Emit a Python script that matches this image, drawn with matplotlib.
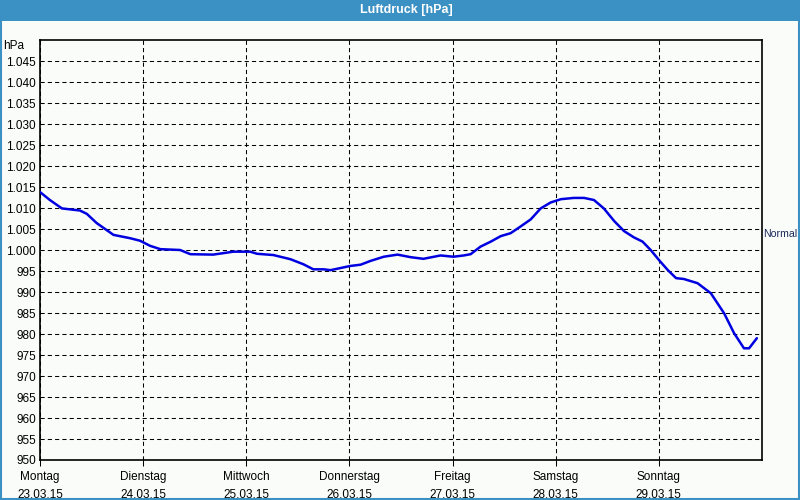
import matplotlib
matplotlib.use("Agg")
import matplotlib.pyplot as plt
from matplotlib.patches import Rectangle
from matplotlib.lines import Line2D

# ---- data ----
title = "Luftdruck [hPa]"
day_names = ["Montag", "Dienstag", "Mittwoch", "Donnerstag", "Freitag", "Samstag", "Sonntag"]
day_dates = ["23.03.15", "24.03.15", "25.03.15", "26.03.15", "27.03.15", "28.03.15", "29.03.15"]
y_ticks = [950, 955, 960, 965, 970, 975, 980, 985, 990, 995, 1000, 1005, 1010,
           1015, 1020, 1025, 1030, 1035, 1040, 1045]
normal_value = 1004.0
hours = [0, 2.3, 5.1, 9.3, 10.9, 13.2, 17.1, 21.0, 23.3, 25.6, 28.0, 32.6, 35.0,
         40.3, 45.0, 48.9, 50.5, 54.3, 58.3, 61.3, 63.6, 66.0, 67.6, 69.9, 72.2,
         74.6, 76.9, 80.0, 83.2, 86.2, 89.2, 93.2, 96.2, 98.6, 100.2, 102.5, 104.9,
         107.2, 109.5, 111.4, 114.2, 116.5, 118.8, 121.2, 124.2, 126.6, 128.9,
         131.2, 133.6, 135.9, 138.2, 140.2, 142.1, 144.2, 146.1, 148.0, 149.8,
         153.0, 156.1, 159.2, 161.5, 163.8, 165.0, 166.8]
pressure = [1013.8, 1011.9, 1009.9, 1009.4, 1008.6, 1006.4, 1003.6, 1002.8, 1002.2,
            1001.0, 1000.2, 1000.0, 999.0, 998.9, 999.6, 999.6, 999.1, 998.8, 997.8,
            996.6, 995.4, 995.4, 995.2, 995.7, 996.2, 996.5, 997.4, 998.4, 998.9,
            998.3, 997.9, 998.7, 998.4, 998.7, 999.0, 1000.8, 1002.0, 1003.3, 1004.0,
            1005.3, 1007.3, 1009.9, 1011.3, 1012.1, 1012.4, 1012.4, 1011.9, 1009.9,
            1006.9, 1004.5, 1003.0, 1002.0, 1000.0, 997.4, 995.2, 993.3, 993.1,
            992.1, 989.7, 984.9, 980.2, 976.6, 976.6, 979.0]

def fmt(v):
    s = str(int(v))
    if len(s) > 3:
        s = s[:-3] + "." + s[-3:]
    return s

bg = "#FAFCFA"
bar = "#3C91C4"
plt.rcParams['font.family'] = ['Liberation Sans', 'DejaVu Sans']

fig = plt.figure(figsize=(8, 5), dpi=100, facecolor=bg)
# title bar + window border
fig.patches.append(Rectangle((0, 1 - 20.5 / 500), 1, 20.5 / 500, transform=fig.transFigure,
                             facecolor=bar, edgecolor="none", zorder=0))
fig.add_artist(Line2D([1 / 800, 1 / 800], [0, 1], transform=fig.transFigure, color=bar, lw=1.5))
fig.add_artist(Line2D([799 / 800, 799 / 800], [0, 1], transform=fig.transFigure, color=bar, lw=1.5))
fig.add_artist(Line2D([0, 1], [1.5 / 500, 1.5 / 500], transform=fig.transFigure, color=bar, lw=1.5))
fig.text(406.5 / 800, 1 - 10.5 / 500, title, ha="center", va="center", color="white",
         fontsize=9, fontweight="bold")

ax = fig.add_axes([40 / 800, 40 / 500, 722 / 800, 420 / 500], facecolor=bg)
ax.set_xlim(0, 168)
ax.set_ylim(950, 1050)

grid_kw = dict(color="black", lw=0.75, linestyle=(0, (4, 3)))
ax.set_yticks(y_ticks)
ax.set_yticklabels([fmt(v) for v in y_ticks])
ax.set_xticks([24 * i for i in range(len(day_names))])
ax.set_xticklabels([f"{n}\n{d}" for n, d in zip(day_names, day_dates)], linespacing=1.6)
ax.grid(True, **grid_kw)
ax.tick_params(axis="y", length=0, labelsize=8.5, pad=3)
ax.tick_params(axis="x", length=4, width=0.75, labelsize=8.5, pad=4)
for s in ax.spines.values():
    s.set_linewidth(1.2)
    s.set_color("black")

ax.plot(hours, pressure, color="#0000E0", lw=1.8, solid_capstyle="round", zorder=3)
ax.text(-16 / 722, 1 - 6 / 420, "hPa", transform=ax.transAxes, ha="right", va="center",
        fontsize=8.5)

ax2 = ax.twinx()
ax2.set_ylim(950, 1050)
ax2.set_yticks([normal_value])
ax2.set_yticklabels(["Normal"], color="#1A2A5A")
ax2.tick_params(axis="y", length=0, labelsize=7.6, pad=1)
for s in ax2.spines.values():
    s.set_visible(False)

fig.savefig("out.png", dpi=100, facecolor=bg)
